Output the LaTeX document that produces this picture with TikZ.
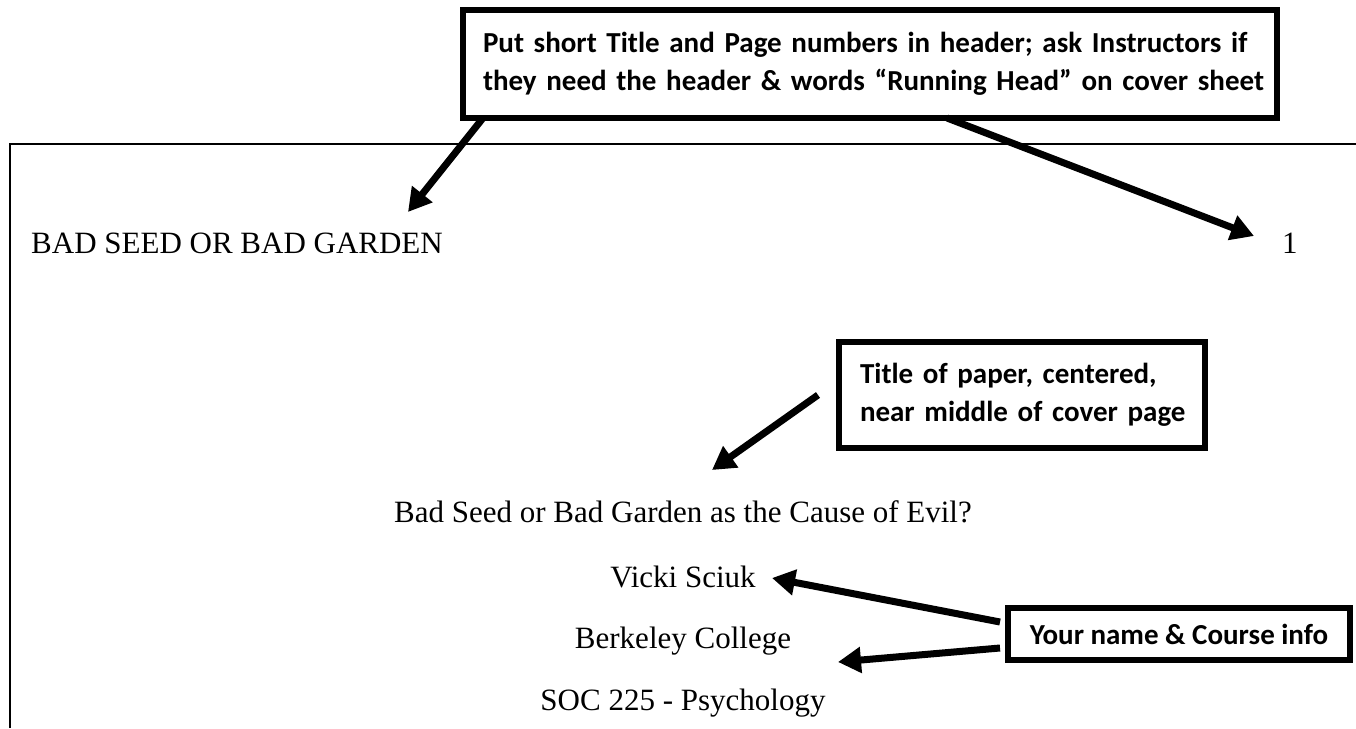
\documentclass[tikz,border=0pt]{standalone}
\usepackage{fontspec}
\setmainfont{Liberation Serif}
\newfontfamily\notefont{Carlito}
\usetikzlibrary{arrows.meta,calc}
\tikzset{
  >={Triangle[length=23pt,width=25pt]},
  {page text/.style} ={font=\fontsize{31}{37}\selectfont, inner sep=0},
  {page edge/.style} ={line width=2pt},
  {note box/.style} ={draw, line width=6pt, rectangle, outer sep=0,
                anchor=north west, align=left, inner ysep=0,
                font=\notefont\bfseries\fontsize{29}{38.5}\selectfont},
  {note arrow/.style} ={->, line width=7pt},
}
\begin{document}
\begin{tikzpicture}[x=1pt,y=-1pt]
\useasboundingbox (0,0) rectangle (1356,728);
\draw[page edge] (10,728) -- (10,144) -- (1356,144);

\node[page text, anchor=base west] (runhead) at (31,253) {BAD SEED OR BAD GARDEN};
\node[page text, anchor=base west] (pagenum) at (1282,253) {1};
\node[page text, anchor=base] (title) at (683,522) {Bad Seed or Bad Garden as the Cause of Evil?};
\node[page text, anchor=base] (author) at (683,587) {Vicki Sciuk};
\node[page text, anchor=base] (school) at (683,648) {Berkeley College};
\node[page text, anchor=base] (course) at (683,710) {SOC 225 - Psychology};

\node[note box, text width=794pt, inner xsep=10pt, minimum height=108pt] (hdbox) at (463,10)
  {\hspace*{10pt}Put short Title and Page numbers in header; ask Instructors if\\
   \hspace*{10pt}they need the header \& words “Running Head” on cover sheet};
\node[note box, text width=340pt, inner xsep=13pt, minimum height=106pt] (titlebox) at (839,342)
  {\hspace*{8pt}Title of paper, centered,\\\hspace*{8pt}near middle of cover page};
\node[note box, align=center, minimum width=342pt, minimum height=52pt] (namebox) at (1008,608)
  {Your name \& Course info};

\coordinate (runtip) at (408,212);
\coordinate (numtip) at (1254,236);
\coordinate (titletip) at (712,470);
\coordinate (authortip) at (772,578);
\coordinate (schooltip) at (838,662);

\draw[note arrow] ($(hdbox.south west)+(20,0)$) -- (runtip);
\draw[note arrow] ($(hdbox.south)+(77,0)$) -- (numtip);
\draw[note arrow] ($(titlebox.west)+(-21,0)$) -- (titletip);
\draw[note arrow] ($(namebox.west)+(-8,-12)$) -- (authortip);
\draw[note arrow] ($(namebox.west)+(-8,14)$) -- (schooltip);
\end{tikzpicture}
\end{document}
